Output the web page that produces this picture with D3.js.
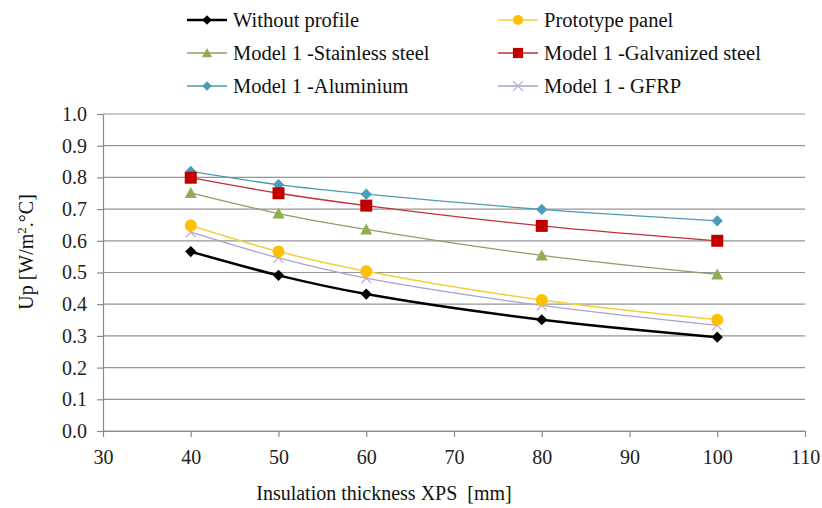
<!DOCTYPE html>
<html>
<head>
<meta charset="utf-8">
<script src="https://cdn.jsdelivr.net/npm/d3@7"></script>
<style>
  body { margin: 0; background: #fff; }
</style>
</head>
<body>
<div id="chart"></div>
<script>
// Up value vs insulation thickness chart

const FONT = "Liberation Serif";

const thickness = [40, 50, 60, 80, 100];
const withoutProfile = [0.566, 0.491, 0.432, 0.351, 0.296];
const prototypePanel = [0.648, 0.566, 0.504, 0.413, 0.351];
const stainlessSteel = [0.751, 0.686, 0.636, 0.554, 0.494];
const galvanizedSteel = [0.799, 0.750, 0.711, 0.647, 0.600];
const aluminium = [0.819, 0.777, 0.747, 0.699, 0.663];
const gfrp = [0.627, 0.546, 0.482, 0.396, 0.333];

const xTicks = [30, 40, 50, 60, 70, 80, 90, 100, 110];
const yTicks = [0, 0.1, 0.2, 0.3, 0.4, 0.5, 0.6, 0.7, 0.8, 0.9, 1.0];

const series = [
  { name: "Without profile", values: withoutProfile, line: "#000000", fill: "#000000", marker: "diamond", width: 2.5 },
  { name: "Prototype panel", values: prototypePanel, line: "#F2CF3A", fill: "#FFC000", marker: "circle", width: 1.5 },
  { name: "Model 1 -Stainless steel", values: stainlessSteel, line: "#8E9E64", fill: "#8FAF4F", marker: "triangle", width: 1.3 },
  { name: "Model 1 -Galvanized steel", values: galvanizedSteel, line: "#C0303A", fill: "#C00000", marker: "square", width: 1.3 },
  { name: "Model 1 -Aluminium", values: aluminium, line: "#4B9BB0", fill: "#4A9CB8", marker: "diamond", width: 1.3 },
  { name: "Model 1 - GFRP", values: gfrp, line: "#A9A2CC", fill: "#B8B0D8", marker: "cross", width: 1.3 }
];

const width = 822, height = 508;
const margin = { top: 114, right: 17, bottom: 77, left: 103 };
const w = width - margin.left - margin.right;
const h = height - margin.top - margin.bottom;

const svg = d3.select("#chart")
  .append("svg")
  .attr("width", width)
  .attr("height", height)
  .attr("font-family", FONT);

const xScale = d3.scaleLinear().domain([30, 110]).range([0, w]);
const yScale = d3.scaleLinear().domain([0, 1]).range([h, 0]);

const g = svg.append("g")
  .attr("transform", "translate(" + margin.left + "," + margin.top + ")");

// gridlines
g.selectAll(".grid")
  .data(yTicks)
  .enter()
  .append("line")
  .attr("x1", 0)
  .attr("x2", w)
  .attr("y1", d => yScale(d))
  .attr("y2", d => yScale(d))
  .attr("stroke", "#959595")
  .attr("stroke-width", 1.2);

// axes
const yAxis = d3.axisLeft(yScale).tickValues(yTicks).tickFormat(d3.format(".1f")).tickSize(6).tickSizeOuter(0).tickPadding(10);
const xAxis = d3.axisBottom(xScale).tickValues(xTicks).tickSize(6).tickSizeOuter(0).tickPadding(13);

const yG = g.append("g").call(yAxis);
const xG = g.append("g").attr("transform", "translate(0," + h + ")").call(xAxis);

[yG, xG].forEach(a => {
  a.attr("font-family", FONT).attr("font-size", 20);
  a.select(".domain").attr("stroke", "#8a8a8a").attr("stroke-width", 1.2);
  a.selectAll(".tick line").attr("stroke", "#8a8a8a").attr("stroke-width", 1.2);
  a.selectAll(".tick text").attr("fill", "#222");
});

// marker shapes
function drawMarker(sel, type, fill, size) {
  const s = size || 1;
  if (type === "circle") {
    sel.append("circle").attr("r", 6 * s).attr("fill", fill);
  } else if (type === "diamond") {
    sel.append("path").attr("d", d3.symbol().type(d3.symbolDiamond2).size(80 * s * s)).attr("fill", fill);
  } else if (type === "square") {
    sel.append("rect").attr("x", -6 * s).attr("y", -6 * s).attr("width", 12 * s).attr("height", 12 * s).attr("fill", fill);
  } else if (type === "triangle") {
    sel.append("path").attr("d", "M0," + (-6 * s) + "L" + (6 * s) + "," + (5 * s) + "L" + (-6 * s) + "," + (5 * s) + "Z").attr("fill", fill);
  } else if (type === "cross") {
    sel.append("path")
      .attr("d", "M-5,-5L5,5M-5,5L5,-5")
      .attr("stroke", fill)
      .attr("stroke-width", 1.2)
      .attr("fill", "none");
  }
}

const line = d3.line()
  .x((d, i) => xScale(thickness[i]))
  .y(d => yScale(d))
  .curve(d3.curveCatmullRom.alpha(0.5));

// draw order: light ones first, black last
const order = [4, 3, 2, 5, 1, 0];
order.forEach(k => {
  const s = series[k];
  g.append("path")
    .datum(s.values)
    .attr("d", line)
    .attr("fill", "none")
    .attr("stroke", s.line)
    .attr("stroke-width", s.width);

  g.selectAll(".pt" + k)
    .data(s.values)
    .enter()
    .append("g")
    .attr("transform", (d, i) => "translate(" + xScale(thickness[i]) + "," + yScale(d) + ")")
    .each(function () { drawMarker(d3.select(this), s.marker, s.fill); });
});

// legend
const legendX = [187, 498];
const legendY = [20, 53, 86];
series.forEach((s, i) => {
  const lx = legendX[i % 2], ly = legendY[Math.floor(i / 2)];
  const lg = svg.append("g").attr("transform", "translate(" + lx + "," + ly + ")");
  lg.append("line")
    .attr("x1", 0).attr("x2", 40).attr("y1", 0).attr("y2", 0)
    .attr("stroke", s.line).attr("stroke-width", s.width);
  const m = lg.append("g").attr("transform", "translate(20,0)");
  drawMarker(m, s.marker, s.fill, 0.85);
  lg.append("text")
    .attr("x", 46)
    .attr("y", 7)
    .attr("font-family", FONT)
    .attr("font-size", 20.5)
    .attr("fill", "#111")
    .text(s.name);
});

// axis titles
svg.append("text")
  .attr("x", 384)
  .attr("y", 500)
  .attr("text-anchor", "middle")
  .attr("font-family", FONT)
  .attr("font-size", 20)
  .attr("fill", "#111")
  .attr("xml:space", "preserve")
  .text("Insulation thickness XPS  [mm]");

const yTitle = svg.append("text")
  .attr("transform", "translate(33,252) rotate(-90)")
  .attr("text-anchor", "middle")
  .attr("font-family", FONT)
  .attr("font-size", 20)
  .attr("fill", "#111");
yTitle.append("tspan").text("Up [W/m");
yTitle.append("tspan").attr("baseline-shift", "super").attr("font-size", 13).text("2");
yTitle.append("tspan").text(".°C]");
</script>
</body>
</html>
